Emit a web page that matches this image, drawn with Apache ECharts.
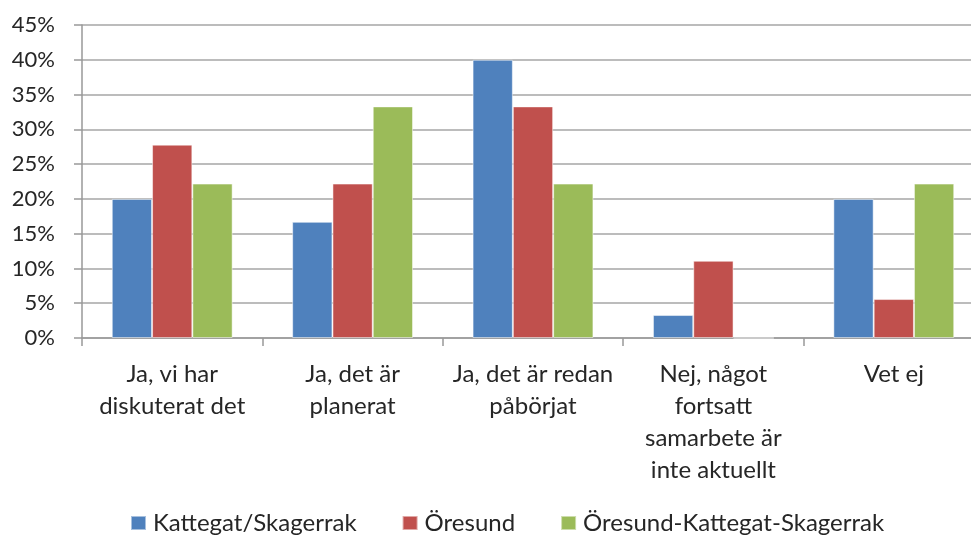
<!DOCTYPE html>
<html><head><meta charset="utf-8">
<script src="https://cdn.jsdelivr.net/npm/echarts@6/dist/echarts.min.js"></script>
<style>html,body{margin:0;padding:0;background:#fff}#c{width:971px;height:536px}</style>
</head><body><div id="c"></div>
<script>
const categories = ["Ja, vi har\ndiskuterat det", "Ja, det är\nplanerat", "Ja, det är redan\npåbörjat", "Nej, något\nfortsatt\nsamarbete är\ninte aktuellt", "Vet ej"];
const seriesNames = ["Kattegat/Skagerrak", "Öresund", "Öresund-Kattegat-Skagerrak"];
const kattegat = [20.0, 16.7, 40.0, 3.3, 20.0];
const oresund = [27.8, 22.2, 33.3, 11.1, 5.6];
const oresundKattegat = [22.2, 33.3, 22.2, 0, 22.2];
const colors = ["#4F81BD", "#C0504D", "#9BBB59"];
const FONT = "Lato";
const TXT = "#262626";

const chart = echarts.init(document.getElementById('c'), null, {renderer: 'canvas'});
const data = [kattegat, oresund, oresundKattegat];
chart.setOption({
  animation: false,
  textStyle: {fontFamily: FONT},
  grid: {left: 82, width: 902, top: 25, height: 313, containLabel: false, outerBoundsMode: 'none'},
  legend: {
    top: 511, left: 130, padding: 0, itemWidth: 15, itemHeight: 14, itemGap: 45,
    icon: 'rect',
    textStyle: {fontFamily: FONT, fontSize: 24, color: TXT, padding: [0, 0, 0, 2]},
    data: seriesNames
  },
  xAxis: {
    type: 'category', data: categories,
    axisLine: {lineStyle: {color: '#999', width: 1.5}},
    axisTick: {show: true, length: 8, lineStyle: {color: '#999', width: 1.5}},
    axisLabel: {fontFamily: FONT, fontSize: 24, color: TXT, lineHeight: 32, margin: 20, interval: 0}
  },
  yAxis: {
    type: 'value', min: 0, max: 45, interval: 5,
    axisLine: {show: true, lineStyle: {color: '#999', width: 1.5}},
    axisTick: {show: true, length: 8, lineStyle: {color: '#999', width: 1.5}},
    splitLine: {lineStyle: {color: '#A6A6A6', width: 1.5}},
    axisLabel: {fontFamily: FONT, fontSize: 22, color: TXT, margin: 27, formatter: v => v + '%'}
  },
  series: seriesNames.map((n, i) => ({
    name: n, type: 'bar', data: data[i],
    barGap: '0%', barCategoryGap: '33%',
    itemStyle: {color: colors[i], borderColor: 'rgba(255,255,255,0.5)', borderWidth: 1}
  }))
});
</script></body></html>
